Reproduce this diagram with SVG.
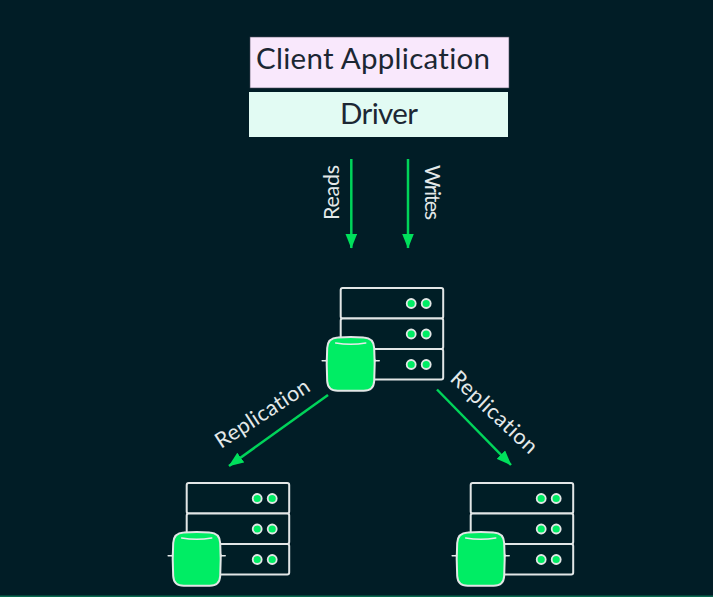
<svg xmlns="http://www.w3.org/2000/svg" width="713" height="597" viewBox="0 0 713 597">
<style>
text{font-family:"Lato","Liberation Sans",sans-serif;font-variant-ligatures:none}
.box{font-size:29.500px;fill:#1c2733}
.lbl{font-size:21.500px;fill:#e4e9e9}
.srv{fill:#001e26;stroke:#e2e6e6;stroke-width:2}
.dot{fill:#00ed64;stroke:#e2e6e6;stroke-width:1.800}
.leaf{fill:#00ed64;stroke:#e2e6e6;stroke-width:2}
.det{fill:none;stroke:#e6eaea;stroke-width:1.600;stroke-linecap:round;stroke-linejoin:round}
.wire{stroke:#00d45a;stroke-width:2.500;fill:none;marker-end:url(#arrow)}
</style>
<defs>
<marker id="arrow" markerUnits="userSpaceOnUse" markerWidth="15" markerHeight="12" refX="14.500" refY="6" orient="auto" viewBox="0 0 15 12">
<path d="M0 0L15 6L0 12Z" fill="#00e05c"/>
</marker>
<g id="server">
<rect class="srv" x="0" y="0" width="102.500" height="30.500" rx="2"/>
<rect class="srv" x="0" y="30.500" width="102.500" height="30.500" rx="2"/>
<rect class="srv" x="0" y="61" width="102.500" height="30.500" rx="2"/>
<circle class="dot" cx="70.500" cy="15.500" r="4.500"/><circle class="dot" cx="85.500" cy="15.500" r="4.500"/>
<circle class="dot" cx="70.500" cy="46" r="4.500"/><circle class="dot" cx="85.500" cy="46" r="4.500"/>
<circle class="dot" cx="70.500" cy="76.500" r="4.500"/><circle class="dot" cx="85.500" cy="76.500" r="4.500"/>
<path class="det" d="M-18.500 72.700H-14.500L-13 70M-14.500 72.700L-13 75.500M38.500 72.700H34.500L33 70M34.500 72.700L33 75.500"/>
<path class="leaf" d="M-3 49.500Q10 48.500 23 49.500Q33 50 33.500 60Q34.500 76 33.500 93Q33 102.700 23 102.700H-3Q-13 102.700-13.500 93Q-14.500 76-13.500 60Q-13 50-3 49.500Z"/>
<path class="det" d="M-5 55Q10 57.500 25 55"/>
</g>
</defs>
<rect width="713" height="597" fill="#011d26"/>
<rect y="595.500" width="713" height="1.500" fill="#0a6a50"/>
<g id="client"><rect x="250" y="37" width="259" height="51" fill="#f9e8fc" stroke="#4a4a5a" stroke-width="0.600"/><text class="box" x="256" y="69" textLength="234">Client Application</text></g>
<g id="driver"><rect x="249" y="92" width="259" height="45" fill="#e2fbf3"/><text class="box" x="340" y="124" textLength="78">Driver</text></g>
<g id="connectors">
<path class="wire" d="M351.300 159V248"/>
<path class="wire" d="M408 159V248"/>
<path class="wire" d="M328 395L229 466"/>
<path class="wire" d="M437 389.500L511 465"/>
</g>
<g id="labels">
<text class="lbl" transform="translate(339 220) rotate(-90)" textLength="55">Reads</text>
<text class="lbl" transform="translate(424.500 165) rotate(90)" textLength="55">Writes</text>
<text class="lbl" transform="translate(221 449) rotate(-33)" textLength="108">Replication</text>
<text class="lbl" transform="translate(449 380) rotate(43)" textLength="110">Replication</text>
</g>
<g id="primary"><use href="#server" x="340.700" y="288"/></g>
<g id="secondary-left"><use href="#server" x="186.700" y="483"/></g>
<g id="secondary-right"><use href="#server" x="470.700" y="483"/></g>
</svg>
